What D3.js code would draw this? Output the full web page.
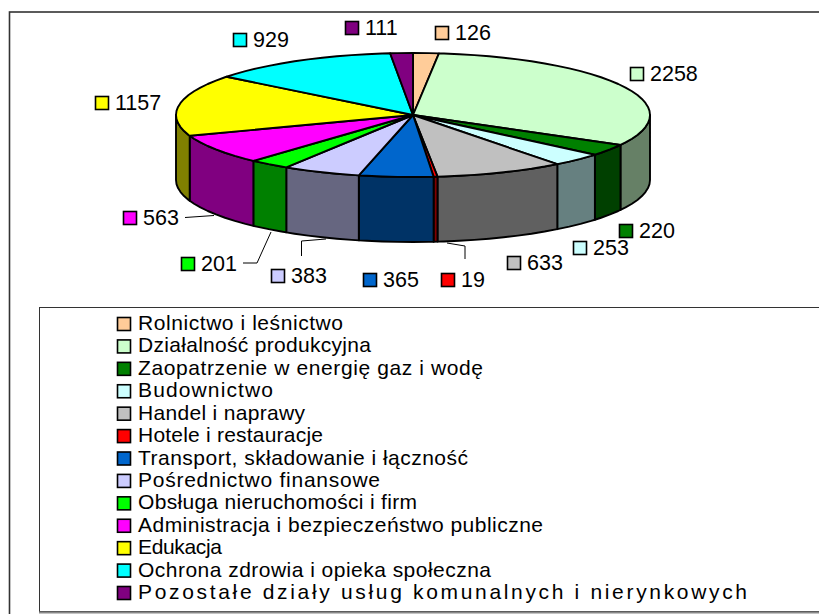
<!DOCTYPE html>
<html><head><meta charset="utf-8">
<script src="https://cdn.jsdelivr.net/npm/d3@7"></script>
<style>html,body{margin:0;padding:0;background:#fff}svg{display:block}text{font-family:"Liberation Sans",Arial,sans-serif;fill:#000}</style>
</head><body><svg id="c" width="819" height="614"></svg>
<script>
const categories = ["Rolnictwo i leśnictwo","Działalność produkcyjna","Zaopatrzenie w energię gaz i wodę","Budownictwo","Handel i naprawy","Hotele i restauracje","Transport, składowanie i łączność","Pośrednictwo finansowe","Obsługa nieruchomości i firm","Administracja i bezpieczeństwo publiczne","Edukacja","Ochrona zdrowia i opieka społeczna","Pozostałe działy usług komunalnych i nierynkowych"];
const values = [126,2258,220,253,633,19,365,383,201,563,1157,929,111];
const colors = ["#FFCC99","#CCFFCC","#008000","#CCFFFF","#C0C0C0","#FF0000","#0066CC","#CCCCFF","#00FF00","#FF00FF","#FFFF00","#00FFFF","#800080"];
// value-label placement: swatch left, swatch top
const labelX = [435,630,619,573,507,441,363,271,181,123,95,233,345];
const labelY = [26,67,224,241,256,273,273,269,257,211,96,33,21];
// leader lines
const leaders = [
 [[185,217.5],[214,215.5]],
 [[243,263],[257,263],[271,232]],
 [[301.5,256],[301.5,241],[326,239]],
 [[447,243],[465,246],[465,259]]
];
const legendEnd = [343,371,483,273,305,323,468,380,417,543,222,491,747];

const svg = d3.select("#c");
const cx=413, cy=115, rx=237, ry=62, depth=65;
const X = d3.scaleLinear().domain([-1,1]).range([cx-rx,cx+rx]);
const Y = d3.scaleLinear().domain([-1,1]).range([cy-ry,cy+ry]);
const pie = d3.pie().sort(null).startAngle(0).endAngle(2*Math.PI);
const arcs = pie(values);
const line = d3.line();
const STEP = Math.PI/48;
const pt = (a,dy=0)=>[X(Math.sin(a)),Y(-Math.cos(a))+dy];
function samples(a0,a1){
  const out=[a0];
  let k=Math.floor(a0/STEP)+1;
  while(k*STEP<a1-1e-6){out.push(k*STEP);k++;}
  out.push(a1);
  return out;
}
const dark = c=>{const r=d3.rgb(c);return d3.rgb(r.r/2,r.g/2,r.b/2).formatHex();};

svg.append("rect").attr("x",9.5).attr("y",12).attr("width",830).attr("height",620)
  .attr("fill","#fff").attr("stroke","#333").attr("stroke-width",1.6);

// walls
const walls = svg.append("g");
arcs.forEach((d,i)=>{
  const a0=Math.max(d.startAngle,Math.PI/2), a1=Math.min(d.endAngle,3*Math.PI/2);
  if(a1<=a0) return;
  const s=samples(a0,a1);
  const p=s.map(a=>pt(a)).concat(s.slice().reverse().map(a=>pt(a,depth)));
  walls.append("path").attr("d",line(p)+"Z").attr("fill",dark(colors[i]))
    .attr("stroke","#000").attr("stroke-width",1.9).attr("stroke-linejoin","round");
});
// top
const top_ = svg.append("g");
arcs.forEach((d,i)=>{
  const p=[[cx,cy]].concat(samples(d.startAngle,d.endAngle).map(a=>pt(a)));
  top_.append("path").attr("d",line(p)+"Z").attr("fill",colors[i])
    .attr("stroke","#000").attr("stroke-width",1.9).attr("stroke-linejoin","round");
});
// leaders
leaders.forEach(l=>svg.append("path").attr("d",line(l)).attr("fill","none").attr("stroke","#000").attr("stroke-width",1));
// value labels
values.forEach((v,i)=>{
  svg.append("rect").attr("x",labelX[i]+.5).attr("y",labelY[i]+.5).attr("width",13).attr("height",13)
    .attr("fill",colors[i]).attr("stroke","#000").attr("stroke-width",1.6);
  svg.append("text").attr("x",labelX[i]+20).attr("y",labelY[i]+14).attr("font-size",21.5).text(v);
});
// legend
svg.append("rect").attr("x",39.5).attr("y",307.5).attr("width",800).attr("height",304)
  .attr("fill","#fff").attr("stroke","#333").attr("stroke-width",1);
svg.append("line").attr("x1",39).attr("x2",819).attr("y1",612.5).attr("y2",612.5).attr("stroke","#888").attr("stroke-width",2);
const row = d3.scalePoint().domain(categories).range([324,593]);
categories.forEach((c,i)=>{
  const y=row(c);
  svg.append("rect").attr("x",117.5).attr("y",y-6.5).attr("width",13).attr("height",13)
    .attr("fill",colors[i]).attr("stroke","#000").attr("stroke-width",1.6);
  svg.append("text").attr("x",138).attr("y",y+6).attr("font-size",21)
    .attr("textLength",legendEnd[i]-138).attr("lengthAdjust","spacing").text(c);
});
</script></body></html>
